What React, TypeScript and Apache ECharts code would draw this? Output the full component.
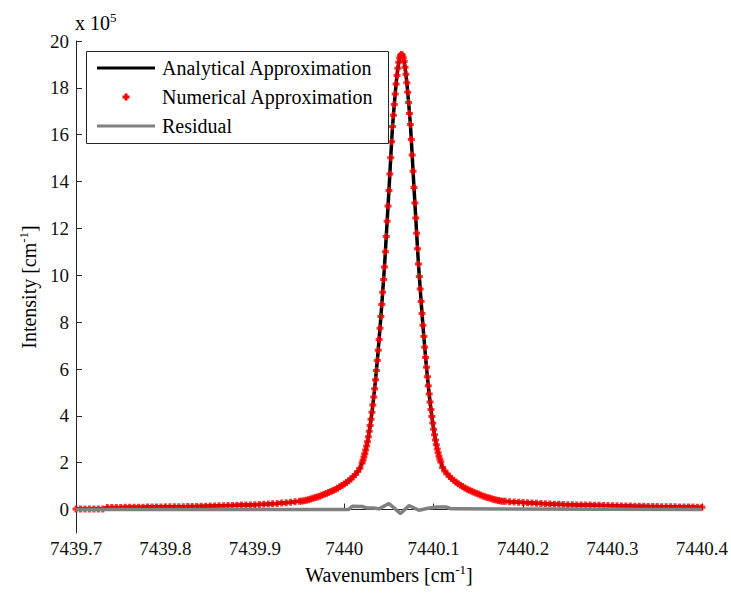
import React, { useEffect, useRef } from "react";
import * as echarts from "echarts";

// Wavenumbers [cm^-1] of the numerical / analytical samples
const wavenumbers = [
  7439.700, 7439.705, 7439.710, 7439.715, 7439.720, 7439.725, 7439.730, 7439.735, 7439.740, 7439.745,
  7439.750, 7439.755, 7439.760, 7439.765, 7439.770, 7439.775, 7439.780, 7439.785, 7439.790, 7439.795,
  7439.800, 7439.805, 7439.810, 7439.815, 7439.820, 7439.825, 7439.830, 7439.835, 7439.840, 7439.845,
  7439.850, 7439.855, 7439.860, 7439.865, 7439.870, 7439.875, 7439.880, 7439.885, 7439.890, 7439.895,
  7439.900, 7439.905, 7439.910, 7439.915, 7439.920, 7439.925, 7439.930, 7439.935, 7439.940, 7439.945,
  7439.950,
  7439.9525, 7439.9550, 7439.9575, 7439.9600, 7439.9625, 7439.9650, 7439.9675, 7439.9700, 7439.9725,
  7439.9750, 7439.9775, 7439.9800, 7439.9825, 7439.9850, 7439.9875, 7439.9900, 7439.9925, 7439.9950,
  7439.9975, 7440.0000, 7440.0025, 7440.0050, 7440.0075, 7440.0100, 7440.0125, 7440.0150, 7440.0175,
  7440.020, 7440.021, 7440.022, 7440.023, 7440.024, 7440.025, 7440.026, 7440.027, 7440.028, 7440.029,
  7440.030, 7440.031, 7440.032, 7440.033, 7440.034, 7440.035, 7440.036, 7440.037, 7440.038, 7440.039,
  7440.040, 7440.041, 7440.042, 7440.043, 7440.044, 7440.045, 7440.046, 7440.047, 7440.048, 7440.049,
  7440.050, 7440.051, 7440.052, 7440.053, 7440.054, 7440.055, 7440.056, 7440.057, 7440.058, 7440.059,
  7440.060, 7440.061, 7440.062, 7440.063, 7440.064, 7440.065, 7440.066, 7440.067, 7440.068, 7440.069,
  7440.070, 7440.071, 7440.072, 7440.073, 7440.074, 7440.075, 7440.076, 7440.077, 7440.078, 7440.079,
  7440.080, 7440.081, 7440.082, 7440.083, 7440.084, 7440.085, 7440.086, 7440.087, 7440.088, 7440.089,
  7440.090, 7440.091, 7440.092, 7440.093, 7440.094, 7440.095, 7440.096, 7440.097, 7440.098, 7440.099,
  7440.100, 7440.101, 7440.102, 7440.103, 7440.104, 7440.105, 7440.106, 7440.107, 7440.108,
  7440.1100, 7440.1125, 7440.1150, 7440.1175, 7440.1200, 7440.1225, 7440.1250, 7440.1275, 7440.1300,
  7440.1325, 7440.1350, 7440.1375, 7440.1400, 7440.1425, 7440.1450, 7440.1475, 7440.1500, 7440.1525,
  7440.1550, 7440.1575, 7440.1600, 7440.1625, 7440.1650, 7440.1675, 7440.1700, 7440.1725, 7440.1750,
  7440.1775,
  7440.180, 7440.185, 7440.190, 7440.195, 7440.200, 7440.205, 7440.210, 7440.215, 7440.220, 7440.225,
  7440.230, 7440.235, 7440.240, 7440.245, 7440.250, 7440.255, 7440.260, 7440.265, 7440.270, 7440.275,
  7440.280, 7440.285, 7440.290, 7440.295, 7440.300, 7440.305, 7440.310, 7440.315, 7440.320, 7440.325,
  7440.330, 7440.335, 7440.340, 7440.345, 7440.350, 7440.355, 7440.360, 7440.365, 7440.370, 7440.375,
  7440.380, 7440.385, 7440.390, 7440.395, 7440.400,
];

// Numerical approximation, intensity in units of 10^5
const numerical = [
  0.02, 0.02, 0.02, 0.02, 0.02, 0.02, 0.02, 0.09, 0.09, 0.09,
  0.09, 0.10, 0.10, 0.10, 0.10, 0.10, 0.11, 0.11, 0.11, 0.11,
  0.11, 0.12, 0.12, 0.12, 0.12, 0.13, 0.13, 0.13, 0.14, 0.14,
  0.15, 0.15, 0.16, 0.16, 0.17, 0.17, 0.18, 0.19, 0.19, 0.20,
  0.21, 0.22, 0.23, 0.24, 0.25, 0.26, 0.28, 0.29, 0.31, 0.33,
  0.36,
  0.37, 0.38, 0.40, 0.42, 0.45, 0.48, 0.51, 0.54, 0.57,
  0.61, 0.65, 0.69, 0.73, 0.77, 0.81, 0.86, 0.91, 0.97,
  1.03, 1.09, 1.16, 1.23, 1.31, 1.40, 1.50, 1.62, 1.76,
  1.99, 2.11, 2.24, 2.38, 2.54, 2.71, 2.90, 3.11, 3.34, 3.59,
  3.86, 4.15, 4.46, 4.80, 5.16, 5.54, 5.94, 6.36, 6.80, 7.26,
  7.74, 8.24, 8.75, 9.28, 9.82, 10.35, 11.00, 11.66, 12.31, 12.96,
  13.62, 14.32, 15.02, 15.70, 16.35, 16.83, 17.29, 17.74, 18.16, 18.53,
  18.84, 19.09, 19.27, 19.38, 19.42, 19.39, 19.29, 19.12, 18.88, 18.58,
  18.22, 17.81, 17.37, 16.91, 16.44, 15.80, 15.13, 14.44, 13.75, 13.09,
  12.44, 11.79, 11.13, 10.48, 9.95, 9.41, 8.88, 8.37, 7.87, 7.39,
  6.93, 6.49, 6.07, 5.67, 5.29, 4.93, 4.59, 4.27, 3.97, 3.69,
  3.43, 3.19, 2.97, 2.77, 2.59, 2.43, 2.28, 2.15, 2.03,
  1.80, 1.65, 1.52, 1.42, 1.33, 1.25, 1.17, 1.10, 1.04,
  0.98, 0.92, 0.87, 0.82, 0.78, 0.74, 0.70, 0.66, 0.62,
  0.58, 0.55, 0.52, 0.49, 0.46, 0.43, 0.41, 0.39, 0.37,
  0.36,
  0.35, 0.33, 0.32, 0.31, 0.30, 0.29, 0.28, 0.27, 0.26, 0.25,
  0.24, 0.23, 0.23, 0.22, 0.21, 0.21, 0.20, 0.20, 0.19, 0.19,
  0.18, 0.18, 0.17, 0.17, 0.16, 0.16, 0.15, 0.15, 0.15, 0.14,
  0.14, 0.14, 0.13, 0.13, 0.13, 0.12, 0.12, 0.12, 0.12, 0.11,
  0.11, 0.11, 0.11, 0.10, 0.10,
];

// Analytical approximation coincides with the numerical one at this scale
const analytical = numerical;

// Residual (analytical - numerical), units of 10^5
const residualX = [
  7439.700, 7440.005, 7440.009, 7440.020, 7440.025, 7440.033, 7440.039, 7440.050,
  7440.063, 7440.0725, 7440.0835, 7440.095, 7440.104, 7440.114, 7440.120, 7440.400,
];
const residualY = [
  0.00, 0.00, 0.14, 0.13, 0.07, 0.07, 0.03, 0.26,
  -0.17, 0.17, -0.03, 0.07, 0.11, 0.11, 0.03, 0.00,
];

const xTicks = [7439.7, 7439.8, 7439.9, 7440.0, 7440.1, 7440.2, 7440.3, 7440.4];
const yTicks = [0, 2, 4, 6, 8, 10, 12, 14, 16, 18, 20];

const legendNames = ["Analytical Approximation", "Numerical Approximation", "Residual"];

const SERIF = "Liberation Serif";
const BLACK = "#000000";
const RED = "#ff0000";
const GRAY = "#808080";
const AXIS = "#262626";

export default function App() {
  const ref = useRef<HTMLDivElement>(null);

  useEffect(() => {
    document.body.style.margin = "0";
    if (!ref.current) return;
    const chart = echarts.init(ref.current, undefined, { renderer: "svg" });

    const numData = wavenumbers.map((x, i) => [x, numerical[i]]);
    const anaData = wavenumbers.map((x, i) => [x, analytical[i]]);
    const resData = residualX.map((x, i) => [x, residualY[i]]);

    const richTitle = {
      n: { fontFamily: SERIF, fontSize: 20, color: "#000", lineHeight: 24 },
      s: { fontFamily: SERIF, fontSize: 13, color: "#000", lineHeight: 14, verticalAlign: "top" },
    };

    // legend drawn as graphic elements (box, samples, texts)
    const legendRows = [68, 97, 126];
    const legendGraphics: any[] = [
      {
        type: "rect",
        z: 100,
        shape: { x: 86.5, y: 51.5, width: 302, height: 92 },
        style: { fill: "#ffffff", stroke: AXIS, lineWidth: 1 },
      },
      {
        type: "line",
        z: 101,
        shape: { x1: 97, y1: legendRows[0], x2: 155, y2: legendRows[0] },
        style: { stroke: BLACK, lineWidth: 3 },
      },
      {
        type: "rect",
        z: 101,
        shape: { x: 122.5, y: legendRows[1] - 1.5, width: 7, height: 3 },
        style: { fill: RED },
      },
      {
        type: "rect",
        z: 101,
        shape: { x: 124.5, y: legendRows[1] - 3.5, width: 3, height: 7 },
        style: { fill: RED },
      },
      {
        type: "line",
        z: 101,
        shape: { x1: 97, y1: legendRows[2], x2: 155, y2: legendRows[2] },
        style: { stroke: GRAY, lineWidth: 3 },
      },
      ...legendNames.map((name, i) => ({
        type: "text",
        z: 101,
        x: 162,
        y: legendRows[i],
        style: {
          text: name,
          fontFamily: SERIF,
          fontSize: 20,
          fill: "#000",
          verticalAlign: "middle",
          align: "left",
        },
      })),
    ];

    chart.setOption({
      animation: false,
      backgroundColor: "#ffffff",
      grid: { left: 76, right: 27, top: 41, bottom: 61, containLabel: false },
      xAxis: {
        type: "value",
        min: 7439.7,
        max: 7440.4,
        name: "{n|Wavenumbers [cm}{s|-1}{n|]}",
        nameLocation: "middle",
        nameGap: 30,
        nameTextStyle: { rich: richTitle },
        axisLine: { show: true, lineStyle: { color: AXIS, width: 1 } },
        axisTick: { show: true, inside: true, length: 6, customValues: xTicks, lineStyle: { color: AXIS } },
        axisLabel: {
          customValues: xTicks,
          margin: 6,
          fontFamily: SERIF,
          fontSize: 19,
          color: "#111",
          formatter: (v: number) => String(Number(v.toFixed(1))),
        },
        splitLine: { show: false },
      },
      yAxis: {
        type: "value",
        min: -1,
        max: 20,
        name: "{n|Intensity [cm}{s|-1}{n|]}",
        nameLocation: "middle",
        nameRotate: 90,
        nameGap: 34,
        nameTextStyle: { rich: richTitle },
        axisLine: { show: true, lineStyle: { color: AXIS, width: 1 } },
        axisTick: { show: true, inside: true, length: 6, customValues: yTicks, lineStyle: { color: AXIS } },
        axisLabel: {
          customValues: yTicks,
          margin: 7,
          fontFamily: SERIF,
          fontSize: 19,
          color: "#111",
          formatter: (v: number) => String(v),
        },
        splitLine: { show: false },
      },
      graphic: [
        {
          type: "text",
          left: 75,
          top: 11,
          style: {
            text: "{a|x 10}{s|5}",
            rich: {
              a: { fontFamily: SERIF, fontSize: 20, fill: "#000", lineHeight: 24 },
              s: { fontFamily: SERIF, fontSize: 13, fill: "#000", lineHeight: 14, verticalAlign: "top" },
            },
          },
        },
        ...legendGraphics,
      ],
      series: [
        {
          name: "Analytical Approximation",
          type: "line",
          data: anaData,
          symbol: "none",
          lineStyle: { color: BLACK, width: 3.5 },
          itemStyle: { color: BLACK },
          z: 2,
        },
        {
          name: "Numerical Approximation",
          type: "scatter",
          data: numData,
          symbol: "path://M2,0H5V2H7V5H5V7H2V5H0V2H2Z",
          symbolSize: 7,
          itemStyle: { color: RED },
          z: 3,
        },
        {
          name: "Residual",
          type: "line",
          data: resData,
          symbol: "none",
          lineStyle: { color: GRAY, width: 3.5 },
          itemStyle: { color: GRAY },
          z: 4,
        },
      ],
    });

    return () => chart.dispose();
  }, []);

  return <div ref={ref} style={{ width: 731, height: 594 }} />;
}
